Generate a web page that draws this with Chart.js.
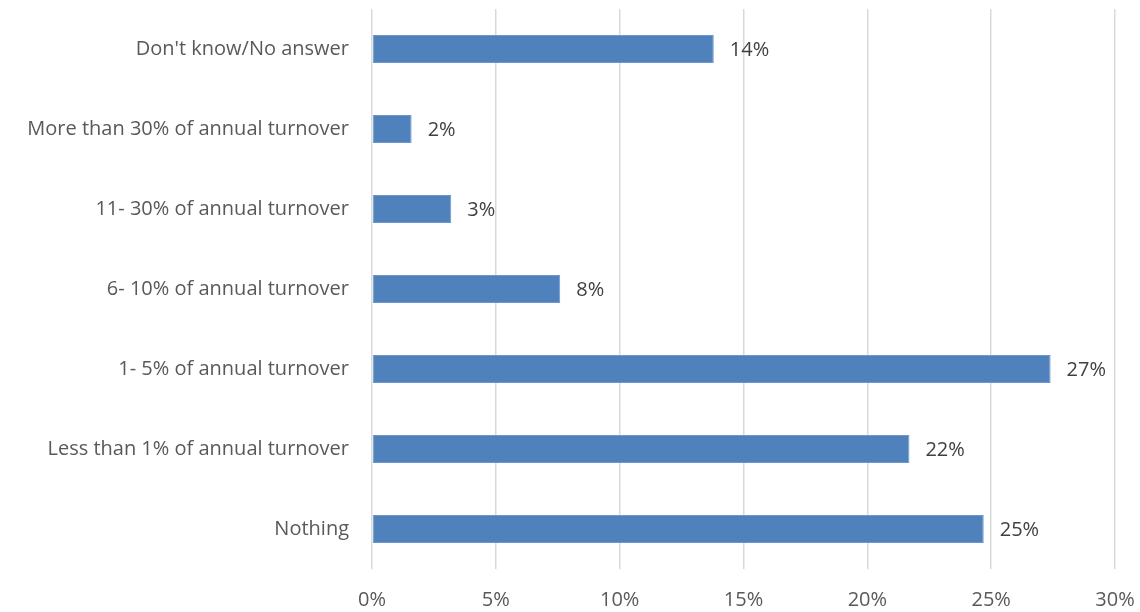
<!DOCTYPE html>
<html>
<head>
<meta charset="utf-8">
<script src="https://cdn.jsdelivr.net/npm/chart.js@4/dist/chart.umd.min.js"></script>
<style>
  html, body { margin: 0; padding: 0; background: #fff; }
  #wrap { width: 1140px; height: 612px; position: relative; }
</style>
</head>
<body>
<div id="wrap"><canvas id="chart"></canvas></div>
<script>
// categories, top to bottom
const categories = [
  "Don't know/No answer",
  'More than 30% of annual turnover',
  '11- 30% of annual turnover',
  '6- 10% of annual turnover',
  '1- 5% of annual turnover',
  'Less than 1% of annual turnover',
  'Nothing'
];
// share of respondents, percent
const shares = [13.8, 1.6, 3.2, 7.6, 27.4, 21.7, 24.7];
const xTicks = [0, 5, 10, 15, 20, 25, 30];

const FONT = "'Open Sans', 'Noto Sans', sans-serif";
const TEXT = '#595959';

// writes the rounded value just past the end of each bar
const barLabels = {
  id: 'barLabels',
  afterDatasetsDraw(chart) {
    const ctx = chart.ctx;
    const meta = chart.getDatasetMeta(0);
    ctx.save();
    ctx.font = '20px ' + FONT;
    ctx.fillStyle = '#404040';
    ctx.textAlign = 'left';
    ctx.textBaseline = 'middle';
    meta.data.forEach((bar, i) => {
      ctx.fillText(Math.round(shares[i]) + '%', bar.x + 16, bar.y + 1);
    });
    ctx.restore();
  }
};

new Chart(document.getElementById('chart'), {
  type: 'bar',
  data: {
    labels: categories,
    datasets: [{
      data: shares,
      backgroundColor: '#4F81BD',
      borderColor: '#6E97CB',
      borderWidth: 1,
      borderSkipped: false,
      barPercentage: 0.35,
      categoryPercentage: 1
    }]
  },
  options: {
    indexAxis: 'y',
    responsive: true,
    maintainAspectRatio: false,
    animation: false,
    layout: { padding: { top: 9, right: 25, bottom: 0, left: 0 } },
    plugins: {
      legend: { display: false },
      tooltip: { enabled: false }
    },
    scales: {
      x: {
        min: 0,
        max: 30,
        afterBuildTicks(axis) {
          axis.ticks = xTicks.map(v => ({ value: v }));
        },
        afterFit(axis) {
          axis.height = 43;
          axis.paddingLeft = 0;
          axis.paddingRight = 0;
        },
        border: { display: false },
        grid: { color: '#D9D9D9', lineWidth: 1.5, drawTicks: false },
        ticks: {
          padding: 19,
          color: TEXT,
          font: { family: FONT, size: 20 },
          callback: v => v + '%'
        }
      },
      y: {
        afterFit(axis) {
          axis.width = 372;
          axis.paddingTop = 0;
          axis.paddingBottom = 0;
        },
        border: { display: false },
        grid: { display: false, drawTicks: false },
        ticks: {
          padding: 23,
          color: TEXT,
          font: { family: FONT, size: 20 }
        }
      }
    }
  },
  plugins: [barLabels]
});
</script>
</body>
</html>
